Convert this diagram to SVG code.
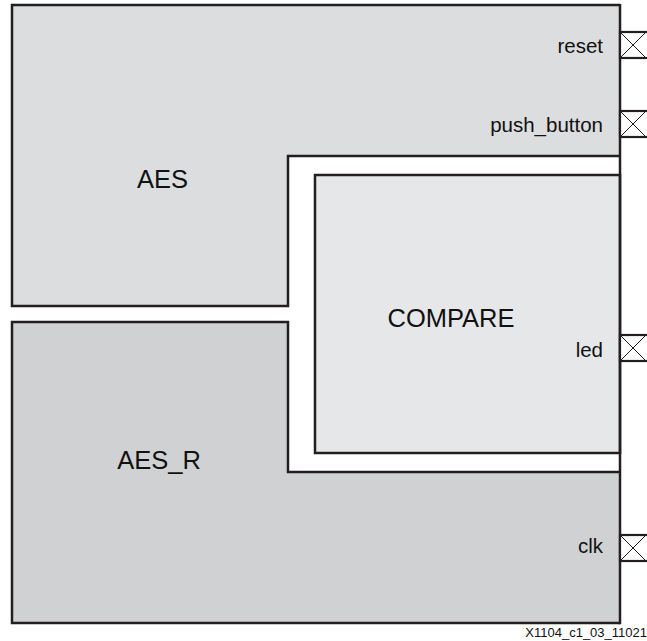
<svg xmlns="http://www.w3.org/2000/svg" width="647" height="641" viewBox="0 0 647 641">
  <style>
    .blk { stroke: #231f20; stroke-width: 2.5; stroke-linejoin: miter; }
    .aes { fill: #dcdddf; }
    .aesr { fill: #d0d1d3; }
    .cmp { fill: #e6e7e8; }
    .big { font-family: "Liberation Sans", Arial, sans-serif; font-size: 25.5px; fill: #111; text-anchor: middle; }
    .port { font-family: "Liberation Sans", Arial, sans-serif; font-size: 20.5px; fill: #111; text-anchor: end; }
    .cap { font-family: "Liberation Sans", Arial, sans-serif; font-size: 13px; fill: #111; text-anchor: end; }
    .padbox { fill: #ffffff; stroke: #231f20; stroke-width: 2.2; }
    .padx { stroke: #231f20; stroke-width: 1; fill: none; }
  </style>
  <defs>
    <g id="pad">
      <rect class="padbox" x="620" y="0" width="30" height="26"/>
      <line class="padx" x1="620" y1="0" x2="646" y2="26"/>
      <line class="padx" x1="620" y1="26" x2="646" y2="0"/>
    </g>
  </defs>
  <rect x="0" y="0" width="647" height="641" fill="#ffffff"/>

  <g id="AES">
    <path class="blk aes" d="M620,5 L12,5 L12,306 L288,306 L288,156 L620,156"/>
    <text class="big" x="162.5" y="188">AES</text>
  </g>

  <g id="AES_R">
    <path class="blk aesr" d="M620,472 L288,472 L288,322 L12,322 L12,623 L620,623"/>
    <text class="big" x="159" y="469">AES_R</text>
  </g>

  <g id="COMPARE">
    <rect class="blk cmp" x="315" y="175" width="305" height="278"/>
    <text class="big" x="451" y="327">COMPARE</text>
  </g>

  <g id="boundary">
    <line class="blk" x1="620" y1="4" x2="620" y2="624.2" fill="none"/>
  </g>

  <g id="connectors">
    <g id="port-reset">
      <use href="#pad" transform="translate(0,32)"/>
      <text class="port" x="603" y="52.5">reset</text>
    </g>
    <g id="port-push_button">
      <use href="#pad" transform="translate(0,111)"/>
      <text class="port" x="603" y="132">push_button</text>
    </g>
    <g id="port-led">
      <use href="#pad" transform="translate(0,335)"/>
      <text class="port" x="603" y="357">led</text>
    </g>
    <g id="port-clk">
      <use href="#pad" transform="translate(0,535)"/>
      <text class="port" x="603" y="553">clk</text>
    </g>
  </g>

  <text class="cap" x="647" y="637">X1104_c1_03_11021</text>
</svg>
